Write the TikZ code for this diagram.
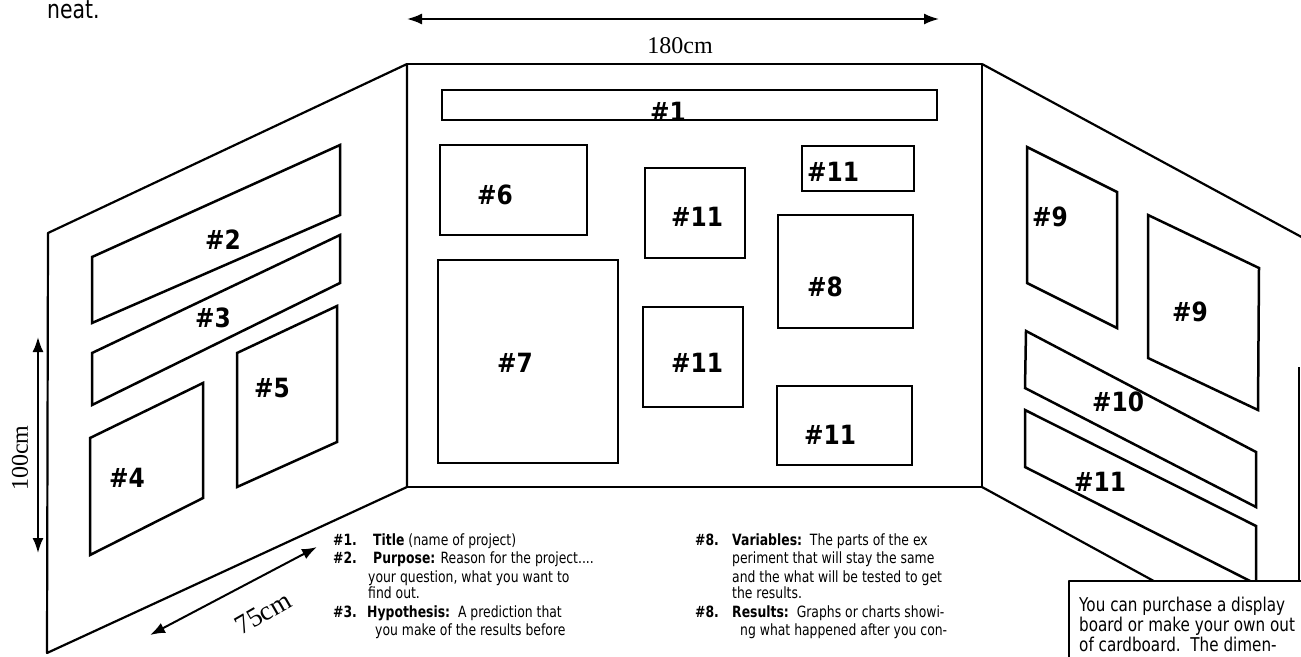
\documentclass[tikz,border=0pt]{standalone}
\usepackage{fontspec}
\setmainfont{DejaVu Sans}[FakeStretch=0.88]
\newfontfamily\narrowsans{DejaVu Sans}[FakeStretch=0.8]
\newfontfamily\dimfont{Liberation Serif}
\usetikzlibrary{arrows.meta}
\begin{document}
\begin{tikzpicture}[x=1pt,y=-1pt,
  panel/.style={line width=2.2pt,line join=round},
  slot/.style={line width=2.5pt,line join=miter},
  tag/.style={font=\fontsize{26.5}{26.5}\selectfont\bfseries,inner sep=0pt},
  legend/.style={font=\narrowsans\fontsize{15.5}{17}\selectfont,anchor=base west,inner sep=0pt},
  note/.style={font=\narrowsans\fontsize{19}{20}\selectfont,anchor=base west,inner sep=0pt},
  dimline/.style={line width=2pt,{Latex[length=15pt,width=11pt]}-{Latex[length=15pt,width=11pt]}},
  dimtext/.style={font=\dimfont\fontsize{24}{24}\selectfont,inner sep=0pt}]
\useasboundingbox (0,0) rectangle (1301,656);
\clip (0,0) rectangle (1301,656);
\fill[white] (0,0) rectangle (1301,656);

% leftover text
\node[font=\narrowsans\fontsize{25.5}{26}\selectfont,anchor=base west,inner sep=0pt] (neat) at (47,18) {neat.};

% dimension arrows
\coordinate (wA) at (407,19); \coordinate (wB) at (939,19);
\draw[dimline] (wA) -- (wB);
\node[dimtext] (wT) at (680,46) {180cm};
\coordinate (hA) at (38,337); \coordinate (hB) at (38,553);
\draw[dimline] (hA) -- (hB);
\node[dimtext,rotate=90] (hT) at (20,458) {100cm};
\coordinate (dA) at (150,635); \coordinate (dB) at (317,547);
\draw[dimline] (dA) -- (dB);
\node[dimtext,font=\dimfont\fontsize{27}{27}\selectfont,rotate=30] (dT) at (263,613) {75cm};

% panels
\draw[panel] (48,233) -- (407,64) -- (407,487) -- (47,653) -- cycle;
\draw[panel] (407,64) rectangle (982,487);
\draw[panel] (982,64) -- (1320,247);
\draw[panel] (982,487) -- (1320,672);
\draw[panel] (1299,367) -- (1299,590);

% centre board slots
\draw[slot] (442,90) rectangle (937,120);
\node[tag] (t1) at (668,112) {\#1};
\draw[slot] (440,145) rectangle (587,235);
\node[tag] (t6) at (495,195) {\#6};
\draw[slot] (438,260) rectangle (618,463);
\node[tag] (t7) at (515,363) {\#7};
\draw[slot] (645,168) rectangle (745,258);
\node[tag] (t11a) at (697,217) {\#11};
\draw[slot] (643,307) rectangle (743,407);
\node[tag] (t11b) at (697,363) {\#11};
\draw[slot] (802,146) rectangle (914,191);
\node[tag] (t11c) at (833,172) {\#11};
\draw[slot] (778,215) rectangle (913,328);
\node[tag] (t8) at (825,287) {\#8};
\draw[slot] (777,386) rectangle (912,465);
\node[tag] (t11d) at (830,435) {\#11};

% left board slots
\draw[slot] (92,257) -- (340,145) -- (340,215) -- (92,323) -- cycle;
\node[tag] (t2) at (223,240) {\#2};
\draw[slot] (92,353) -- (340,235) -- (340,283) -- (92,405) -- cycle;
\node[tag] (t3) at (213,318) {\#3};
\draw[slot] (90,438) -- (203,383) -- (203,498) -- (90,555) -- cycle;
\node[tag] (t4) at (127,478) {\#4};
\draw[slot] (237,353) -- (337,306) -- (337,442) -- (237,487) -- cycle;
\node[tag] (t5) at (272,388) {\#5};

% right board slots
\draw[slot] (1027,147) -- (1117,192) -- (1117,328) -- (1027,283) -- cycle;
\node[tag] (t9a) at (1050,217) {\#9};
\draw[slot] (1148,215) -- (1259,268) -- (1258,410) -- (1148,358) -- cycle;
\node[tag] (t9b) at (1190,312) {\#9};
\draw[slot] (1026,331) -- (1256,452) -- (1256,507) -- (1025,388) -- cycle;
\node[tag] (t10) at (1118,402) {\#10};
\draw[slot] (1025,410) -- (1256,526) -- (1256,584) -- (1025,467) -- cycle;
\node[tag] (t11e) at (1100,482) {\#11};

% legend, left column
\node[legend] (n1) at (333,545) {\textbf{\#1.}};
\node[legend] (l1) at (373,545) {\textbf{Title} (name of project)};
\node[legend] (n2) at (333,563) {\textbf{\#2.}};
\node[legend] (l2) at (373,563) {\textbf{Purpose:} Reason for the project....};
\node[legend] (l3) at (368,582) {your question, what you want to};
\node[legend] (l4) at (368,598) {find out.};
\node[legend] (n3) at (333,617) {\textbf{\#3.}};
\node[legend] (l5) at (367,617) {\textbf{Hypothesis:}\ \ A prediction that};
\node[legend] (l6) at (375,635) {you make of the results before};

% legend, right column
\node[legend] (n8a) at (695,545) {\textbf{\#8.}};
\node[legend] (r1) at (732,545) {\textbf{Variables:}\ \ The parts of the ex};
\node[legend] (r2) at (732,563) {periment that will stay the same};
\node[legend] (r3) at (732,582) {and the what will be tested to get};
\node[legend] (r4) at (732,598) {the results.};
\node[legend] (n8b) at (695,617) {\textbf{\#8.}};
\node[legend] (r5) at (732,617) {\textbf{Results:}\ \ Graphs or charts showi-};
\node[legend] (r6) at (740,635) {ng what happened after you con-};

% note box
\draw[panel,fill=white] (1069,581) rectangle (1320,690);
\node[note] (b1) at (1079,611) {You can purchase a display};
\node[note] (b2) at (1079,631) {board or make your own out};
\node[note] (b3) at (1079,651) {of cardboard.\ \ The dimen-};
\end{tikzpicture}
\end{document}
